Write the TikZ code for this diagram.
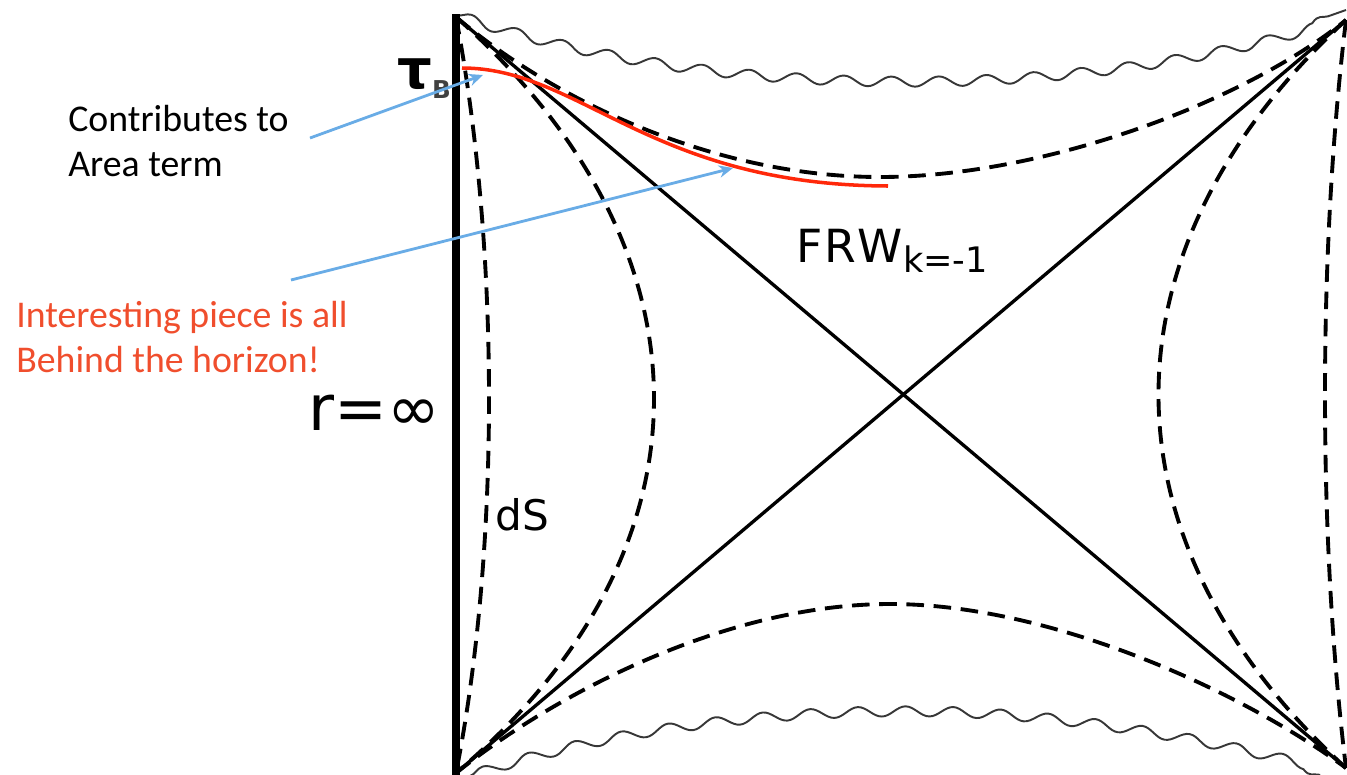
\documentclass[tikz,border=0pt]{standalone}
\usepackage{fontspec}
\setmainfont{DejaVu Sans}
\newfontfamily\notefont{Carlito}
\usetikzlibrary{arrows.meta, decorations.pathmorphing}
\definecolor{pointerblue}{RGB}{105,172,230}
\definecolor{notered}{RGB}{240,78,45}
\definecolor{slicered}{RGB}{255,40,10}
\definecolor{wavegray}{RGB}{55,55,55}

\begin{document}
\begin{tikzpicture}[x=0.02cm, y=-0.02cm,
    slice/.style={line width=2.2pt, dash pattern=on 10pt off 5.5pt},
    horizon/.style={line width=1.9pt},
    wavy/.style={wavegray, line width=1.1pt, decorate,
      decoration={snake, segment length=0.95cm, amplitude=0.1cm}},
    pointer/.style={pointerblue, line width=1.6pt, -{Stealth[length=8pt, width=7pt]}},
    note/.style={anchor=north west, align=left, inner sep=0pt,
      font=\notefont\fontsize{21.5}{25.6}\selectfont}]
  \useasboundingbox (0,0) rectangle (1347,775);

  % Corners of the diagram
  \coordinate (tl) at (456,17);
  \coordinate (bl) at (456,773);
  \coordinate (tr) at (1346,20);
  \coordinate (br) at (1346,768);

  % Singularities
  \draw[wavy] (456,15) .. controls (600,62) and (750,78) .. (900,78)
    .. controls (1060,78) and (1220,55) .. (1346,10);
  \draw[wavy] (470,776) .. controls (600,733) and (750,715) .. (900,715)
    .. controls (1060,715) and (1220,748) .. (1320,775);

  % Slices
  \draw[slice] (tl) .. controls (560,105) and (720,177) .. (880,177)
    .. controls (1040,177) and (1240,105) .. (tr);
  \draw[slice] (bl) .. controls (560,690) and (730,604) .. (890,604)
    .. controls (1050,604) and (1240,690) .. (br);
  \draw[slice] (tl) .. controls (500,250) and (500,550) .. (bl);
  \draw[slice] (tl) .. controls (720,250) and (720,550) .. (bl);
  \draw[slice] (tr) .. controls (1096,250) and (1096,540) .. (br);
  \draw[slice] (tr) .. controls (1318,250) and (1318,540) .. (br);

  % Horizons
  \draw[horizon] (tl) -- (br);
  \draw[horizon] (bl) -- (tr);

  % Boundary
  \coordinate (edgetop) at (456,14);
  \coordinate (edgebot) at (456,775);
  \draw[line width=4.5pt] (edgetop) -- (edgebot);

  % Interesting piece
  \coordinate (piecestart) at (462,68);
  \coordinate (pieceend) at (888,186);
  \draw[slicered, line width=2pt] (piecestart) .. controls (580,68) and (650,185) .. (pieceend);

  % Labels
  \node[anchor=base west, inner sep=0pt] (tau) at (397,88)
    {\fontsize{31}{31}\selectfont\bfseries τ\raisebox{-6pt}{\color{black!75}\fontsize{14}{14}\selectfont B}};
  \node[anchor=base west, inner sep=0pt, font=\fontsize{36}{36}\selectfont] (rinf) at (308,430) {r=∞};
  \node[anchor=base west, inner sep=0pt, font=\fontsize{24}{24}\selectfont] (ds) at (495,530) {dS};
  \node[anchor=base west, inner sep=0pt, font=\fontsize{26}{26}\selectfont] (frw) at (796,262)
    {F\kern1pt R\kern1pt W\raisebox{-5.7pt}{\fontsize{20}{20}\selectfont k=-1}};

  \node[note] (area) at (68,105) {Contributes to\\Area term};
  \node[note, notered] (piece) at (16,301) {Interesting piece is all\\Behind the horizon!};

  % Pointers
  \coordinate (areafrom) at (310,138);
  \coordinate (areato) at (483,75);
  \coordinate (piecefrom) at (291,280);
  \coordinate (pieceto) at (733,168);
  \draw[pointer] (areafrom) -- (areato);
  \draw[pointer] (piecefrom) -- (pieceto);
\end{tikzpicture}
\end{document}
